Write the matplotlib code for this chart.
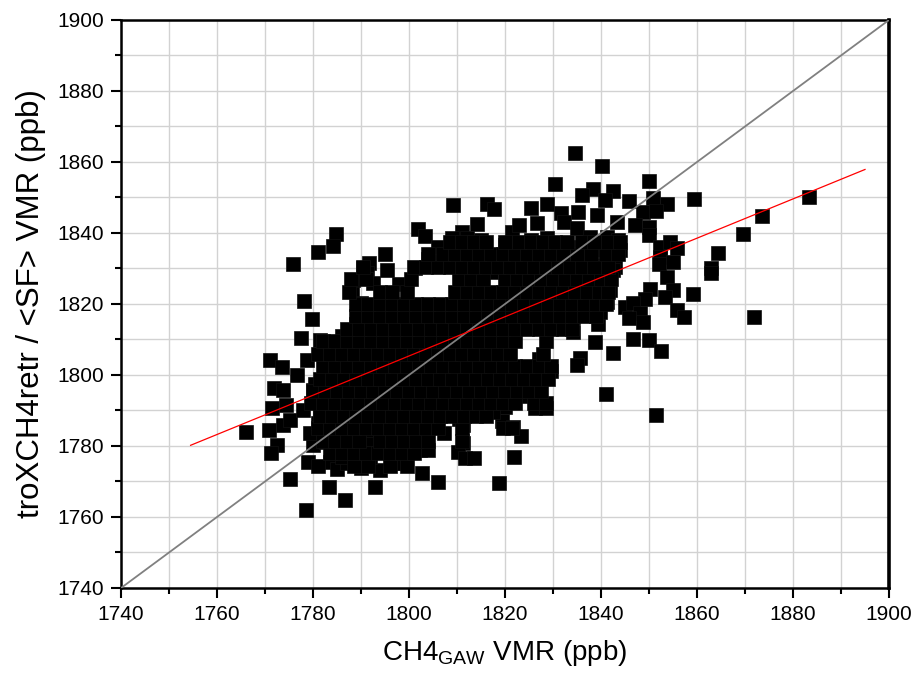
"""Scatter of retrieved tropospheric XCH4 against GAW surface CH4."""

import matplotlib
matplotlib.use("Agg")
import matplotlib.pyplot as plt
from matplotlib.ticker import MultipleLocator

# Isolated points around the cloud (ppb)
outer_gaw = [
    1784.8, 1784.1, 1781.0, 1775.9, 1791.7, 1794.9, 1790.5,
    1834.6, 1830.5, 1809.1, 1816.2, 1817.7, 1825.4, 1828.7, 1831.6, 1814.2,
    1801.9, 1803.3, 1811.0, 1808.9, 1821.4, 1823.0, 1826.7, 1825.4, 1828.7,
    1832.2, 1815.1, 1813.1, 1809.6, 1804.0, 1805.8, 1801.3, 1815.8, 1819.0,
    1821.7, 1825.9, 1829.4, 1830.8, 1823.8, 1818.3, 1812.0, 1808.5,
    1840.3, 1850.1, 1859.4, 1838.3, 1836.0, 1842.4, 1840.8, 1845.9, 1850.9,
    1853.8, 1835.3, 1839.2, 1848.7, 1851.5, 1843.3, 1847.1, 1849.9, 1849.9,
    1834.9, 1837.7, 1841.2, 1843.6, 1835.6, 1839.1, 1842.2, 1844.0, 1835.6,
    1838.8, 1841.2, 1842.9, 1852.3, 1854.4, 1855.9, 1852.2, 1852.0, 1855.1,
    1864.3, 1863.0, 1873.5, 1883.4, 1869.6, 1871.9,
    1863.0, 1853.7, 1855.1, 1853.3, 1859.1, 1850.2, 1849.2, 1855.9, 1857.3,
    1845.0, 1846.7, 1848.1, 1845.9, 1848.8, 1846.7, 1849.9, 1852.6, 1838.8,
    1842.4, 1835.6, 1834.9, 1841.0, 1834.2, 1839.4, 1841.2, 1842.5, 1840.5,
    1841.9, 1838.8, 1839.8, 1837.0, 1834.9, 1836.3, 1839.1, 1834.9, 1837.7,
    1834.2, 1851.4,
    1818.8, 1806.1, 1802.8, 1799.0, 1821.9, 1811.3, 1811.3, 1810.3, 1811.7,
    1813.5, 1819.3, 1821.7, 1823.3, 1820.0, 1826.2, 1828.5, 1815.8, 1807.2,
    1804.7, 1802.3, 1804.0, 1799.5, 1800.2, 1803.0, 1808.5, 1812.0, 1805.1,
    1799.8,
    1766.0, 1770.9, 1771.4, 1774.4, 1772.4, 1771.2, 1773.8, 1775.2, 1778.5,
    1783.3, 1786.7, 1778.9, 1780.1, 1783.5, 1784.9, 1787.0, 1790.0, 1793.0,
    1786.7, 1782.8, 1781.5, 1775.2, 1778.0, 1789.1, 1791.2, 1794.0, 1794.0,
    1791.9, 1797.4, 1795.3, 1787.0, 1789.8, 1784.2, 1779.4,
    1778.1, 1779.7, 1777.4, 1771.0, 1773.5, 1771.9, 1773.8, 1776.6, 1778.7,
    1781.5, 1783.9, 1783.5, 1780.1, 1787.7, 1788.1, 1788.4, 1791.2, 1790.1,
    1791.2, 1790.8, 1794.3, 1796.0, 1794.3, 1790.1, 1793.6, 1794.6, 1787.0,
    1790.5, 1793.3, 1785.6, 1789.1, 1792.6, 1796.0, 1782.1, 1785.6, 1790.5,
    1794.6, 1796.7, 1796.4,
    # ragged edge of the dense centre
    1780.5, 1783.0, 1785.5, 1788.0, 1786.0, 1789.0, 1792.5, 1795.5, 1798.0,
    1797.5, 1784.0, 1781.0, 1786.0, 1792.0, 1796.0, 1800.5, 1806.0, 1810.5,
    1814.0, 1817.5, 1823.5, 1826.5, 1829.5, 1827.0, 1830.5, 1833.0, 1836.5,
    1838.0, 1833.0, 1826.0, 1820.0, 1812.0, 1806.0, 1817.0, 1811.5, 1803.0,
    1808.0, 1815.0, 1820.0, 1800.0,
]
outer_retr = [
    1839.6, 1836.3, 1834.6, 1831.3, 1831.5, 1834.0, 1830.1,
    1862.5, 1853.7, 1848.0, 1848.2, 1846.8, 1847.1, 1848.1, 1845.5, 1842.6,
    1841.1, 1839.2, 1840.2, 1838.5, 1840.4, 1842.3, 1842.9, 1838.0, 1838.5,
    1843.2, 1838.0, 1836.0, 1834.3, 1832.7, 1832.4, 1830.1, 1835.2, 1833.8,
    1833.3, 1836.1, 1835.2, 1832.4, 1831.5, 1831.0, 1831.5, 1831.0,
    1858.9, 1854.7, 1849.5, 1852.4, 1850.7, 1851.9, 1849.3, 1849.1, 1849.8,
    1848.2, 1845.8, 1845.1, 1846.0, 1846.3, 1843.2, 1842.3, 1841.8, 1839.4,
    1841.3, 1839.0, 1839.0, 1838.0, 1836.1, 1835.2, 1834.3, 1835.2, 1832.4,
    1831.0, 1831.9, 1830.5, 1836.1, 1837.4, 1835.7, 1833.3, 1831.3, 1831.9,
    1834.3, 1830.1, 1844.9, 1850.2, 1839.6, 1816.4,
    1828.6, 1827.5, 1823.9, 1822.1, 1822.7, 1824.2, 1821.3, 1818.3, 1816.4,
    1819.1, 1820.2, 1817.4, 1816.0, 1815.0, 1810.1, 1809.9, 1806.9, 1809.2,
    1806.1, 1804.7, 1802.8, 1794.6, 1812.2, 1814.4, 1820.6, 1829.6, 1827.7,
    1823.9, 1819.2, 1817.8, 1817.4, 1819.2, 1821.1, 1822.5, 1824.9, 1826.8,
    1816.4, 1788.7,
    1769.5, 1769.9, 1772.5, 1775.1, 1777.0, 1785.9, 1780.9, 1778.4, 1776.5,
    1776.5, 1787.1, 1785.4, 1782.9, 1791.1, 1790.6, 1790.8, 1789.7, 1783.6,
    1785.4, 1778.9, 1778.9, 1785.4, 1780.8, 1785.9, 1790.1, 1790.1, 1791.1,
    1789.2,
    1783.9, 1784.5, 1790.6, 1791.5, 1780.3, 1778.1, 1785.9, 1770.6, 1762.0,
    1768.4, 1764.8, 1775.6, 1780.3, 1775.6, 1773.4, 1775.1, 1773.9, 1768.5,
    1779.8, 1781.2, 1788.3, 1787.3, 1790.1, 1779.8, 1782.6, 1780.8, 1773.2,
    1777.0, 1775.1, 1785.4, 1785.4, 1787.3, 1784.5, 1783.6,
    1820.8, 1815.7, 1810.3, 1804.2, 1802.3, 1796.3, 1795.8, 1800.0, 1804.2,
    1809.9, 1808.0, 1801.4, 1795.8, 1812.2, 1823.9, 1826.8, 1828.6, 1820.2,
    1816.4, 1811.7, 1821.1, 1822.1, 1817.4, 1808.0, 1808.0, 1810.8, 1802.3,
    1802.3, 1804.2, 1798.6, 1798.6, 1798.6, 1801.4, 1795.8, 1794.9, 1794.9,
    1795.8, 1815.5, 1806.1,
    1797.5, 1800.5, 1804.5, 1807.5, 1811.0, 1814.5, 1826.0, 1829.5, 1825.5,
    1818.5, 1791.0, 1786.5, 1777.0, 1780.5, 1783.0, 1787.0, 1793.5, 1787.5,
    1793.5, 1789.5, 1794.0, 1797.5, 1801.0, 1804.5, 1815.0, 1818.5, 1823.0,
    1828.5, 1826.0, 1833.0, 1836.5, 1838.5, 1836.0, 1829.0, 1825.5, 1817.5,
    1811.0, 1804.5, 1797.5, 1800.5,
]

# Dense centre of the cloud, one retrieved value per row with its GAW values
core_retr = [
    1774.5, 1778.0, 1781.5, 1785.0, 1788.5, 1792.0, 1795.5, 1799.0, 1802.5,
    1806.0, 1809.5, 1813.0, 1816.5, 1820.0, 1823.5, 1827.0, 1830.5, 1834.0,
    1837.5,
]
core_gaw = [
    [1781.0, 1788.5, 1791.5, 1796.0, 1799.5],
    [1783.5, 1786.0, 1788.5, 1791.0, 1793.5, 1796.0, 1798.5, 1801.0],
    [1782.0, 1784.5, 1787.0, 1789.5, 1794.0, 1796.5, 1799.0, 1801.5, 1804.0,
     1811.0],
    [1781.0, 1783.5, 1786.0, 1788.5, 1791.0, 1793.5, 1796.0, 1798.5, 1801.0,
     1803.5, 1806.0, 1811.0, 1819.5, 1821.5],
    [1781.5, 1784.0, 1786.5, 1789.0, 1791.5, 1794.0, 1796.5, 1799.0, 1801.5,
     1804.0, 1806.5, 1809.0, 1811.5, 1814.0, 1816.0],
    [1779.5, 1782.0, 1784.5, 1787.0, 1789.5, 1792.0, 1794.5, 1797.0, 1799.5,
     1802.0, 1804.5, 1807.0, 1809.5, 1812.0, 1814.5, 1817.0, 1819.5, 1822.0,
     1826.0, 1828.5],
    [1780.0, 1782.5, 1785.0, 1787.5, 1790.0, 1792.5, 1795.0, 1797.5, 1800.0,
     1802.5, 1805.0, 1807.5, 1810.0, 1812.5, 1815.0, 1817.5, 1820.0, 1822.5,
     1825.0, 1827.5],
    [1781.5, 1784.0, 1786.5, 1789.0, 1791.5, 1794.0, 1796.5, 1799.0, 1801.5,
     1804.0, 1806.5, 1809.0, 1811.5, 1814.0, 1816.5, 1819.0, 1821.5, 1824.0,
     1826.5, 1829.0],
    [1782.0, 1784.5, 1787.0, 1789.5, 1792.0, 1794.5, 1797.0, 1799.5, 1802.0,
     1804.5, 1807.0, 1809.5, 1812.0, 1814.5, 1817.0, 1819.5, 1822.0, 1824.5,
     1827.0, 1829.5],
    [1781.0, 1783.5, 1786.0, 1788.5, 1791.0, 1793.5, 1796.0, 1798.5, 1801.0,
     1803.5, 1806.0, 1808.5, 1811.0, 1813.5, 1816.0, 1818.5, 1821.0, 1828.0],
    [1782.0, 1784.5, 1787.0, 1789.5, 1792.0, 1794.5, 1797.0, 1799.5, 1802.0,
     1804.5, 1807.0, 1809.5, 1812.0, 1814.5, 1817.0, 1819.5, 1822.0, 1828.5],
    [1787.0, 1789.5, 1792.0, 1794.5, 1797.0, 1799.5, 1802.0, 1804.5, 1807.0,
     1809.5, 1812.0, 1814.5, 1817.0, 1819.5, 1822.0, 1824.5, 1827.0, 1829.5,
     1832.0, 1834.0],
    [1789.0, 1791.5, 1794.0, 1796.5, 1799.0, 1801.5, 1804.0, 1806.5, 1809.0,
     1811.5, 1814.0, 1816.5, 1819.0, 1821.5, 1824.0, 1826.5, 1829.0, 1831.5,
     1834.0, 1836.5, 1839.0],
    [1789.0, 1791.5, 1794.0, 1796.5, 1799.0, 1801.5, 1804.0, 1806.5, 1809.0,
     1811.5, 1814.0, 1816.5, 1819.0, 1821.5, 1824.0, 1826.5, 1829.0, 1831.5,
     1834.0, 1836.5, 1839.0, 1841.0],
    [1787.5, 1794.0, 1796.5, 1799.5, 1809.5, 1812.0, 1814.5, 1817.0, 1819.5,
     1822.0, 1824.5, 1827.0, 1829.5, 1832.0, 1834.5, 1837.0, 1839.5, 1841.5],
    [1788.0, 1791.0, 1800.5, 1810.5, 1813.0, 1815.5, 1820.0, 1822.5, 1825.0,
     1827.5, 1830.0, 1832.5, 1835.0, 1837.5, 1840.0, 1842.0],
    [1790.5, 1801.0, 1803.5, 1806.0, 1808.5, 1811.0, 1813.5, 1816.0, 1818.5,
     1821.0, 1823.5, 1826.0, 1828.5, 1831.0, 1833.5, 1836.0, 1838.5, 1841.5],
    [1804.0, 1807.0, 1809.5, 1812.0, 1814.5, 1817.0, 1819.5, 1822.0, 1824.5,
     1827.0, 1829.5, 1832.0, 1835.0, 1838.0, 1841.0, 1843.5],
    [1808.5, 1811.0, 1813.5, 1816.0, 1820.0, 1823.0, 1825.5, 1828.0, 1830.5,
     1833.0, 1836.0, 1838.5, 1841.5, 1844.0],
]

# Linear fit of retrieved against GAW values
fit_slope = 0.553
fit_intercept = 809.96
fit_gaw = [1754.5, 1895.0]

gaw = list(outer_gaw)
retr = list(outer_retr)
for row_retr, row_gaw in zip(core_retr, core_gaw):
    gaw.extend(row_gaw)
    retr.extend([row_retr] * len(row_gaw))

plt.rcParams["font.family"] = ["Liberation Sans", "DejaVu Sans"]
plt.rcParams["mathtext.fontset"] = "custom"
plt.rcParams["mathtext.rm"] = "Liberation Sans"

fig = plt.figure(figsize=(9.16, 6.82), dpi=100, facecolor="white")
ax = fig.add_axes([121 / 916, 94 / 682, 768 / 916, 568 / 682])

ax.plot(gaw, retr, linestyle="none", marker="s", markersize=9.6,
        markerfacecolor="black", markeredgecolor="#111111",
        markeredgewidth=0.5, zorder=2)
ax.plot([1740, 1900], [1740, 1900], color="#808080", linewidth=1.3, zorder=3)
ax.plot(fit_gaw, [fit_intercept + fit_slope * v for v in fit_gaw],
        color="#ff0000", linewidth=0.9, zorder=4)

ax.set_xlim(1740, 1900)
ax.set_ylim(1740, 1900)
ax.xaxis.set_major_locator(MultipleLocator(20))
ax.xaxis.set_minor_locator(MultipleLocator(10))
ax.yaxis.set_major_locator(MultipleLocator(20))
ax.yaxis.set_minor_locator(MultipleLocator(10))
ax.grid(which="both", color="#d2d2d2", linewidth=1.0, zorder=0)
ax.set_axisbelow(True)

ax.tick_params(which="both", direction="out", width=1.5, colors="black",
               top=False, right=False)
ax.tick_params(which="major", length=7, labelsize=15, pad=5)
ax.tick_params(which="minor", length=4)
for spine in ax.spines.values():
    spine.set_linewidth(1.8)
    spine.set_color("black")
ax.spines["right"].set_linewidth(2.6)

ax.set_xlabel(r"CH4$_{\mathrm{GAW}}$ VMR (ppb)", fontsize=20, labelpad=10)
ax.set_ylabel("troXCH4retr / <SF> VMR (ppb)", fontsize=22.5, labelpad=8)

fig.savefig("out.png", dpi=100, facecolor="white")
plt.close(fig)
